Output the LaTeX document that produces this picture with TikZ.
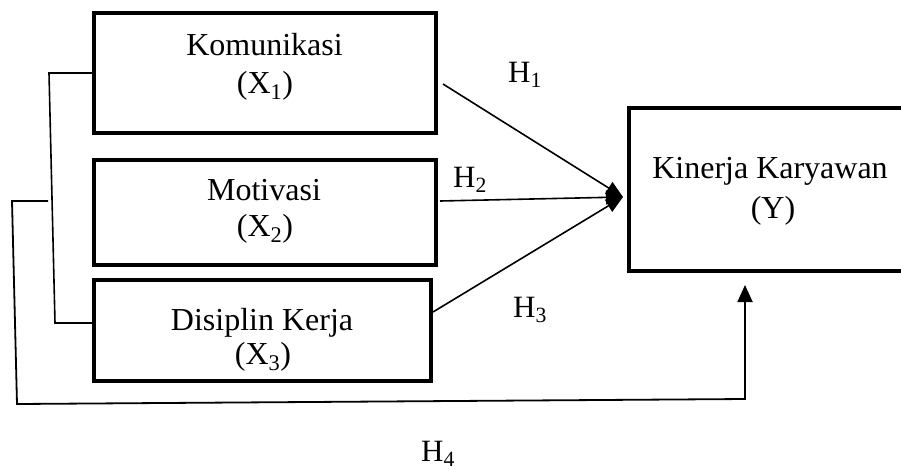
\documentclass[tikz,border=0pt]{standalone}
\usepackage{fontspec}
\setmainfont{Liberation Serif}
\usetikzlibrary{arrows.meta}

\tikzset{
  varbox/.style={draw, line width=4.8pt, rectangle, inner sep=0pt, outer sep=0pt},
  boxtext/.style={anchor=base, inner sep=0pt, font=\fontsize{32}{38}\selectfont},
  hlabel/.style={anchor=base west, inner sep=0pt, font=\fontsize{31}{37}\selectfont},
  link/.style={line width=1.6pt},
  patharrow/.style={link, -{Triangle[length=17pt, width=14pt]}},
  overall/.style={line width=1.8pt, -{Triangle[length=17pt, width=15pt]}}
}

\begin{document}
\begin{tikzpicture}[x=1pt, y=-1pt]
  \useasboundingbox (0,0) rectangle (901,472);
  \clip (0,0) rectangle (901,472);

  % independent variables
  \node[varbox, minimum width=342pt, minimum height=120pt] (x1) at (265,73) {};
  \node[varbox, minimum width=342pt, minimum height=105pt] (x2) at (265,212.5) {};
  \node[varbox, minimum width=337pt, minimum height=101pt] (x3) at (262.5,330.5) {};
  % dependent variable
  \node[varbox, minimum width=283pt, minimum height=163pt] (y) at (770.5,189.5) {};

  \node[boxtext] (t1a) at (264.5,55) {Komunikasi};
  \node[boxtext] (t1b) at (265,93) {(X\textsubscript{1})};
  \node[boxtext] (t2a) at (264,200) {Motivasi};
  \node[boxtext] (t2b) at (265,236) {(X\textsubscript{2})};
  \node[boxtext] (t3a) at (262,330) {Disiplin Kerja};
  \node[boxtext] (t3b) at (263,364) {(X\textsubscript{3})};
  \node[boxtext] (tya) at (770,178) {Kinerja Karyawan};
  \node[boxtext] (tyb) at (773,218) {(Y)};

  % hypothesis labels
  \node[hlabel] (h1) at (508,82) {H\textsubscript{1}};
  \node[hlabel] (h2) at (453,187) {H\textsubscript{2}};
  \node[hlabel] (h3) at (513,317) {H\textsubscript{3}};
  \node[hlabel] (h4) at (421,461) {H\textsubscript{4}};

  % partial paths into Y
  \coordinate (ytip) at (623,197);
  \draw[patharrow] ([shift={(7pt,-11pt)}]x1.east) -- (ytip);
  \draw[patharrow] ([shift={(4pt,11.5pt)}]x2.east) -- (ytip);
  \draw[patharrow] ([shift={(2pt,18.5pt)}]x3.east) -- (ytip);

  % bracket joining the three variables
  \coordinate (b1) at (49,73);
  \coordinate (b2) at (55,323);
  \draw[link] (x1.west) -- (b1) -- (b2) -- (b2 -| x3.west);

  % simultaneous path into Y
  \coordinate (o0) at (48,201);
  \coordinate (o1) at (12,201);
  \coordinate (o2) at (17,404);
  \coordinate (o3) at (745,399);
  \coordinate (ybot) at (745,285);
  \draw[overall] (o0) -- (o1) -- (o2) -- (o3) -- (ybot);
\end{tikzpicture}
\end{document}
